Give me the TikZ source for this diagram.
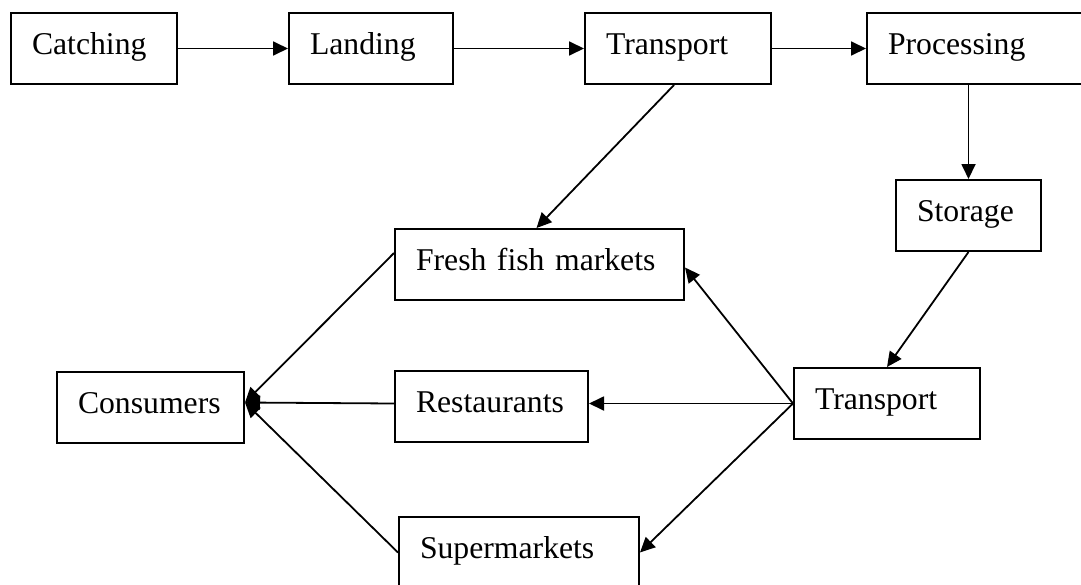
\documentclass[tikz,border=0pt]{standalone}
\usepackage{fontspec}
\setmainfont{Liberation Serif}
\usetikzlibrary{arrows.meta}
\tikzset{
  box/.style={draw, line width=2pt, anchor=north west, inner xsep=21pt, inner ysep=0pt,
    align=left, text height=22pt, text depth=11pt, minimum height=71pt,
    font=\fontsize{31.7pt}{38pt}\selectfont},
  conn/.style={line width=1.8pt, -{Triangle[length=15pt,width=14pt]}}
}
\begin{document}
\begin{tikzpicture}[x=1pt,y=-1pt]
\useasboundingbox (0,0) rectangle (1081,584);
\clip (0,0) rectangle (1081,584);
\fill[white] (0,0) rectangle (1081,584);
\node[box, text width=124pt] (catch) at (10,12) {Catching};
\node[box, text width=122pt] (land) at (288,12) {Landing};
\node[box, text width=144pt] (tra) at (584,12) {Transport};
\node[box, text width=192pt] (proc) at (866,12) {Processing};
\node[box, text width=103pt] (stor) at (895,179) {Storage};
\node[box, text width=144pt] (trb) at (793,367) {Transport};
\node[box, text width=247pt] (fresh) at (394,228) {Fresh fish markets};
\node[box, text width=151pt] (rest) at (394,370) {Restaurants};
\node[box, text width=145pt] (cons) at (56,371) {Consumers};
\node[box, text width=198pt] (super) at (398,516) {Supermarkets};
\coordinate (cin) at ([yshift=5pt]cons.east);
\draw[conn] (catch) -- (land);
\draw[conn] (land) -- (tra);
\draw[conn] (tra) -- (proc.west |- tra.east);
\draw[conn] (stor.north |- proc.south) -- (stor.north);
\draw[conn] ([xshift=-4pt]tra.south) -- ([xshift=-3pt]fresh.north);
\draw[conn] (stor.south) -- (trb.north);
\draw[conn] (trb.west) -- ([yshift=-3pt]fresh.east);
\draw[conn] (trb.west) -- (rest.east |- trb.west);
\draw[conn] (trb.west) -- (super.east);
\draw[conn] ([yshift=11.5pt]fresh.west) -- (cin);
\draw[conn] ([yshift=3pt]rest.west) -- (cin);
\draw[conn] (super.west) -- (cin);
\end{tikzpicture}
\end{document}
